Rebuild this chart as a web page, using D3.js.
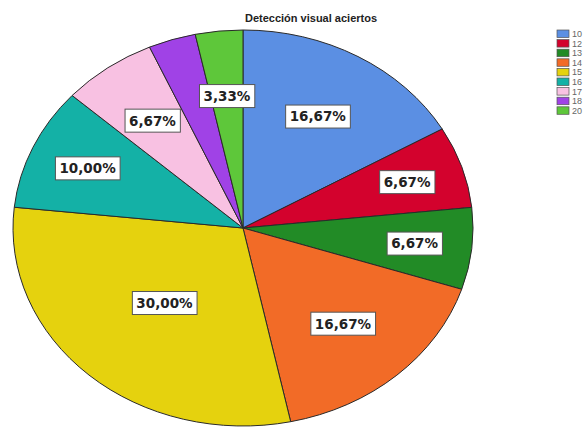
<!DOCTYPE html>
<html>
<head>
<meta charset="utf-8">
<script src="https://cdn.jsdelivr.net/npm/d3@7"></script>
<style>
  html, body { margin: 0; padding: 0; background: #fff; }
  svg { display: block; }
</style>
</head>
<body>
<svg id="chart" width="587" height="430"></svg>
<script>
const title = "Detección visual aciertos";
const categories = ["10", "12", "13", "14", "15", "16", "17", "18", "20"];
const percents = [16.67, 6.67, 6.67, 16.67, 30.00, 10.00, 6.67, 3.33, 3.33];
const colors = ["#5b8fe3", "#d3022d", "#228b26", "#f26b27", "#e5d20e", "#14b1a6", "#f8c1e2", "#a042e6", "#5ec73a"];
const labelShown = [true, true, true, true, true, true, true, false, true];

// layout: relative radius at which each slice's label box sits
const labelRadius = { "10": 0.65, "12": 0.75, "13": 0.75, "14": 0.65, "15": 0.51, "16": 0.74, "17": 0.67, "18": 0.67, "20": 0.67 };

const svg = d3.select("#chart");
const cx = 243, cy = 228, rx = 230, ry = 198;
const sx = rx / ry;

const pie = d3.pie().sort(null).value(d => d.v);
const data = categories.map((c, i) => ({ c, v: percents[i], col: colors[i], show: labelShown[i] }));
const arcs = pie(data);
const arc = d3.arc().innerRadius(0).outerRadius(ry);

const g = svg.append("g").attr("transform", `translate(${cx},${cy}) scale(${sx},1)`);
g.selectAll("path").data(arcs).enter().append("path")
  .attr("d", arc)
  .attr("fill", d => d.data.col)
  .attr("stroke", "#2a2a2a")
  .attr("stroke-width", 1)
  .attr("vector-effect", "non-scaling-stroke");

// labels
const fmt = v => v.toFixed(2).replace(".", ",") + "%";
const lg = svg.append("g");
arcs.filter(d => d.data.show).forEach(d => {
  const rr = ry * labelRadius[d.data.c];
  const [x0, y0] = d3.arc().innerRadius(rr).outerRadius(rr).centroid(d);
  const x = cx + x0 * sx, y = cy + y0;
  const grp = lg.append("g").attr("transform", `translate(${x},${y})`);
  const rect = grp.append("rect");
  const t = grp.append("text")
    .attr("text-anchor", "middle")
    .attr("dy", "0.36em")
    .attr("font-family", "DejaVu Sans, sans-serif")
    .attr("font-weight", "bold")
    .attr("font-size", 13.5)
    .attr("fill", "#222")
    .text(fmt(d.data.v));
  const bb = t.node().getBBox();
  rect.attr("x", bb.x - 4).attr("y", -11.5)
    .attr("width", bb.width + 8).attr("height", 23)
    .attr("fill", "#fff").attr("stroke", "#555").attr("stroke-width", 1);
});

// title
svg.append("text")
  .attr("x", 311).attr("y", 22)
  .attr("text-anchor", "middle")
  .attr("font-family", "Liberation Sans, Arial, sans-serif")
  .attr("font-weight", "bold")
  .attr("font-size", 11)
  .attr("fill", "#222")
  .text(title);

// legend
const leg = svg.append("g").attr("transform", "translate(557,30)");
const items = leg.selectAll("g").data(data).enter().append("g")
  .attr("transform", (d, i) => `translate(0,${i * 9.6})`);
items.append("rect")
  .attr("width", 12).attr("height", 7.5)
  .attr("fill", d => d.col).attr("stroke", "#555").attr("stroke-width", 0.7);
items.append("text")
  .attr("x", 15).attr("y", 7)
  .attr("font-family", "Liberation Sans, Arial, sans-serif")
  .attr("font-size", 9)
  .attr("fill", "#666")
  .text(d => d.c);
</script>
</body>
</html>
